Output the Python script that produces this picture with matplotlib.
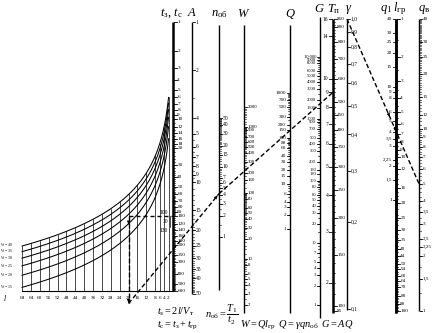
import numpy as np
import matplotlib.pyplot as plt
from matplotlib.collections import LineCollection

plt.rcParams['font.family'] = ['Liberation Serif', 'DejaVu Serif']
plt.rcParams['mathtext.fontset'] = 'custom'
plt.rcParams['mathtext.rm'] = 'Liberation Serif'
plt.rcParams['mathtext.it'] = 'Liberation Serif:italic'
plt.rcParams['mathtext.bf'] = 'Liberation Serif:bold'

# scale values
t_major = [1, 2, 3, 4, 5, 6, 7, 8, 9, 10, 12, 14, 16, 18, 20, 30, 40, 50, 60, 70, 80, 90,
           100, 120, 140, 160, 180, 200, 250, 300, 400, 500, 600]
A_major = [1, 2, 4, 5, 6, 7, 8, 9, 10, 15, 20, 25, 30, 35, 40, 50]
n_major = [1, 2, 3, 4, 5, 6, 7, 10, 15, 20, 30, 40, 50]
W_major = [2, 3, 4, 5, 6, 8, 10, 20, 30, 40, 50, 60, 80, 100, 160, 200, 300, 400, 500, 600,
           700, 900, 1000, 2000]
Q_major = [1, 2, 3, 4, 6, 10, 15, 20, 30, 40, 60, 80, 100, 150, 200, 300, 500, 700, 1000]
G_major = [1, 2, 3, 4, 5, 7, 10, 20, 30, 40, 50, 60, 80, 100, 130, 150, 200, 300, 400, 500,
           700, 900, 1000, 1500, 2000, 3000, 4000, 5000, 6000, 8000, 9000, 10000]
Tp_min = [96, 100, 150, 200, 250, 300, 350, 400, 450, 500, 600, 700, 800, 900, 960]
Tp_hours = [2, 3, 4, 5, 6, 7, 8, 9, 10, 14, 16]
gamma_vals = [0.1, 0.2, 0.3, 0.4, 0.5, 0.6, 0.7, 0.8, 0.9, 1.0]
q1_vals = [1, 1.5, 2, 2.25, 3, 3.5, 4, 5, 6, 8, 9, 10, 15, 20, 25, 30, 40]
lgr_vals = [1, 2, 3, 4, 5, 6, 7, 8, 9, 10, 12, 16, 20, 25, 30, 35, 40, 44, 50, 54, 60, 64,
            70, 80, 90, 100]
qv_vals = [1, 1.5, 2, 2.25, 2.5, 3, 3.5, 4, 5, 6, 7, 8, 9, 10, 12, 15, 20, 25, 30, 40]

l_ticks = [68, 64, 60, 56, 52, 48, 44, 40, 36, 32, 28, 24, 20, 16, 12, 8, 6, 4, 2]
V_curves = [40, 35, 30, 25, 20, 15]

# worked example
ex_l = 20
ex_tz = 100
ex_tgr = 30
ex_tc = 130
ex_n = 4.15
ex_Tp = 540
ex_gamma = 1.0
ex_qv = 5

# scale functions (pixel coords of the sheet)
yt = lambda v: float(22 + 97 * np.log10(v))
yA = lambda v: float(22 + 160 * np.log10(v))
yN = lambda v: float(237 - 70 * np.log10(v))
yW = lambda v: float(325 - 66 * np.log10(v))
yQ = lambda v: float(229 - 45.3 * np.log10(v))
yG = lambda v: float(305 - 62 * np.log10(v))
yTp = lambda v: float(283 - 292 * np.log10(v / 120))
yGam = lambda v: float(19 - 290 * np.log10(v))
yQ1 = lambda v: float(200 - 113 * np.log10(v))
yL = lambda v: float(-1.3 + 156 * np.log10(v + 0.35))
yQv = lambda v: float(311 - 182 * np.log10(v))
xl = lambda l: 173 - 2.22 * l

X_T, X_A, X_N, X_W, X_Q = 173, 192, 219, 244, 290
X_G, X_TP, X_GAM, X_Q1, X_QV = 320, 333, 347, 396, 419

fig = plt.figure(figsize=(4.34, 3.33), dpi=100)
ax = fig.add_axes([0, 0, 1, 1])
ax.set_xlim(0, 434)
ax.set_ylim(333, 0)
ax.axis('off')

FS = 4.0


def fmt(v):
    if v >= 10000:
        return '10 000'
    s = ('%g' % v).replace('.', ',')
    if isinstance(v, float) and v == 1.0:
        s = '1,0'
    return s


def scale(x, f, ytop, ybot, major, side='right', minor=(), lw=1.0, tl=2.6, ml=1.5, fs=FS):
    ax.plot([x, x], [ytop, ybot], color='k', lw=lw, solid_capstyle='butt')
    d = 1 if side == 'right' else -1
    off = lw * 0.5
    for v in minor:
        y = f(v)
        ax.plot([x + d * off, x + d * (off + ml)], [y, y], color='k', lw=0.45)
    for v in major:
        y = f(v)
        ax.plot([x + d * off, x + d * (off + tl)], [y, y], color='k', lw=0.6)
        ax.text(x + d * (off + tl + 0.8), y, fmt(v), fontsize=fs, va='center',
                ha='left' if d > 0 else 'right')


def dashed(xs, ys, on=4.5, gap=2.5):
    segs = []
    for i in range(len(xs) - 1):
        x0, y0, x1, y1 = xs[i], ys[i], xs[i + 1], ys[i + 1]
        n = np.hypot(x1 - x0, y1 - y0)
        s = 0.0
        while s < n:
            e = min(s + on, n)
            segs.append([(x0 + (x1 - x0) * s / n, y0 + (y1 - y0) * s / n),
                         (x0 + (x1 - x0) * e / n, y0 + (y1 - y0) * e / n)])
            s += on + gap
    ax.add_collection(LineCollection(segs, colors='k', linewidths=1.0, zorder=5))


def head(x, y, x0, y0, size=4.5):
    ux, uy = x - x0, y - y0
    n = np.hypot(ux, uy)
    ux, uy = ux / n, uy / n
    bx, by = x - size * ux, y - size * uy
    w = size * 0.38
    ax.fill([x, bx - w * uy, bx + w * uy], [y, by + w * ux, by - w * ux],
            color='k', lw=0, zorder=6)


# curves block: t_з = 2l/V
lc = np.linspace(2, 68, 300)
for V in V_curves:
    ax.plot(xl(lc), 22 + 97 * np.log10(120 * lc / V), color='k', lw=0.75)
    ly = yt(120 * 68 / V) + (-1.2 if V == 40 else 0)
    ax.text(0.5, ly, r'$V_{\mathrm{т}}$ = %d' % V, fontsize=2.8, va='center')
ybase = yt(600)
ax.plot([xl(68), X_T], [ybase, ybase], color='k', lw=0.8)
for l in l_ticks:
    ax.plot([xl(l), xl(l)], [ybase, yt(120 * l / max(V_curves))], color='k', lw=0.5)
    ax.text(xl(l), ybase + 6.5, str(l), fontsize=3.8, ha='center', va='center')
ax.text(5, ybase + 7, r'$l$', fontsize=5.5, ha='center', va='center')

# scales
scale(X_T, yt, yt(1), yt(600), t_major, lw=1.8, fs=3.8,
      minor=list(np.arange(10, 20, 1)) + list(np.arange(20, 100, 2)) +
      list(np.arange(100, 200, 5)) + list(np.arange(200, 600, 10)))
scale(X_A, yA, yA(1), yA(50), A_major, minor=[3] + list(np.arange(5, 10, 0.5)) +
      list(np.arange(10, 50, 1)))
scale(X_N, yN, 25, 290, n_major, minor=list(np.arange(1, 10, 0.5)) + list(np.arange(10, 50, 1)))
scale(X_W, yW, 25, 313, W_major, fs=3.5,
      minor=list(np.arange(2, 10, 0.5)) + list(np.arange(10, 100, 2)) +
      list(np.arange(100, 1000, 20)) + list(np.arange(1000, 2000, 100)))
scale(X_Q, yQ, 25, 313, Q_major, side='left', fs=3.7,
      minor=list(np.arange(1, 10, 1)) + list(np.arange(10, 100, 5)) +
      list(np.arange(100, 1000, 50)))
scale(X_G, yG, 17, 318, G_major, side='left', fs=3.3,
      minor=list(np.arange(1, 10, 1)) + list(np.arange(10, 100, 5)) +
      list(np.arange(100, 1000, 50)) + list(np.arange(1000, 10000, 500)))
scale(X_TP, yTp, 19, 313, Tp_min, lw=1.8, fs=3.7,
      minor=list(np.arange(100, 400, 10)) + list(np.arange(400, 960, 20)))
for h in Tp_hours:
    y = yTp(h * 60)
    ax.plot([X_TP - 4, X_TP - 0.9], [y, y], color='k', lw=0.6)
    ax.text(X_TP - 4.8, y, str(h), fontsize=FS, ha='right', va='center')
scale(X_GAM, yGam, 19, 310, gamma_vals)
scale(X_Q1, yQ1, 19, 313, q1_vals, side='left', lw=1.8, fs=3.7)
scale(X_Q1, yL, 19, 313, lgr_vals, lw=1.8, fs=3.7,
      minor=list(np.arange(1, 10, 0.5)) + list(np.arange(10, 20, 1)) +
      list(np.arange(20, 100, 2)))
scale(X_QV, yQv, 19, 311, qv_vals, fs=3.7,
      minor=list(np.arange(1, 10, 0.25)) + list(np.arange(10, 40, 0.5)))

# titles
ti = dict(fontsize=9, ha='center', va='center')
ax.text(X_T - 2, 13, r'$t_{\mathrm{з}},\, t_{\mathrm{c}}$', **ti)
ax.text(X_A, 13, r'$A$', **ti)
ax.text(X_N, 14, r'$n_{\mathrm{об}}$', **ti)
ax.text(X_W, 14, r'$W$', **ti)
ax.text(X_Q, 14, r'$Q$', **ti)
ax.text(X_G - 1, 9, r'$G$', **ti)
ax.text(X_TP + 1, 9, r'$T_{\mathrm{п}}$', **ti)
ax.text(X_GAM + 2, 9, r'$\gamma$', **ti)
ax.text(X_Q1 - 10, 9, r'$q_1$', **ti)
ax.text(X_Q1 + 4, 9, r'$l_{\mathrm{гр}}$', **ti)
ax.text(X_QV + 5, 9, r'$q_{\mathrm{в}}$', **ti)

# formulas
fo = dict(fontsize=7.5, va='center')
ax.text(157, 312, r'$t_{\mathrm{з}} = 2l/V_{\mathrm{т}}$', **fo)
ax.text(157, 325, r'$t_{\mathrm{c}} = t_{\mathrm{з}} + t_{\mathrm{гр}}$', **fo)
ax.text(205, 315, r'$n_{\mathrm{об}} = \dfrac{T_1}{t_2}$', **fo)
ax.text(240, 325, r'$W = Ql_{\mathrm{гр}}\;\;Q = \gamma q n_{\mathrm{об}}\;\;G = AQ$', **fo)

# worked example lines
xe = float(xl(ex_l))
ybot_ex = ybase + 12
ytz = yt(ex_tz)
yn = yN(ex_n)
yg0 = yGam(ex_gamma)
yq5 = yQv(ex_qv)
dashed([xe, X_T], [ytz, ytz])
dashed([xe, xe], [ytz, ybot_ex])
dashed([xe, X_N, X_TP], [ybot_ex, yn, yTp(ex_Tp)])
dashed([X_GAM, X_QV], [yg0, yq5])
ax.plot([X_T - 3, X_T - 3], [ytz, yt(ex_tc)], color='k', lw=0.5)
ax.text(X_T - 5, ytz - 3, str(ex_tz), fontsize=FS, ha='right', va='center')
ax.text(X_T - 5, (ytz + yt(ex_tc)) / 2, str(ex_tgr), fontsize=FS, ha='right', va='center')
ax.text(X_T - 5, yt(ex_tc) + 3, str(ex_tc), fontsize=FS, ha='right', va='center')

head(xe, ybot_ex, xe, ybot_ex - 5)
head(xe, ytz + 9, xe, ytz + 4)
head(X_N - 1, yn + 1.2, xe, ybot_ex)
x3 = 390
y3 = yg0 + (x3 - X_GAM) * (yq5 - yg0) / (X_QV - X_GAM)
head(x3, y3, X_GAM, yg0)
ax.plot([X_Q1 - 1], [y3 + 11], 'k.', ms=3.5, zorder=6)

fig.savefig('out.png', dpi=100)
